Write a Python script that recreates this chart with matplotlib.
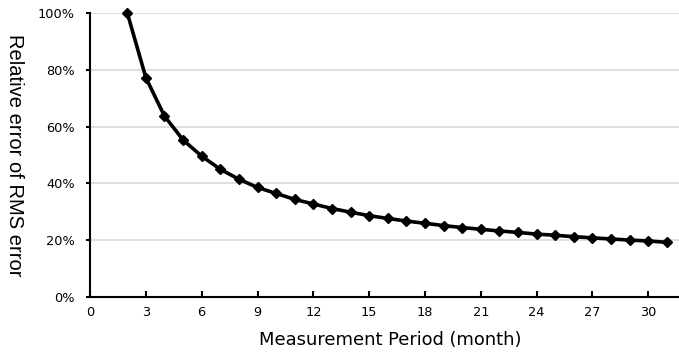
import matplotlib
matplotlib.use("Agg")
import matplotlib.pyplot as plt
from matplotlib.ticker import FuncFormatter

# measurement period (month) and relative error of RMS error (%)
months = list(range(2, 32))
rel_error = [100.0, 77.2, 63.7, 55.3, 49.6, 45.0, 41.5, 38.6, 36.5, 34.4,
             32.8, 31.2, 29.9, 28.7, 27.7, 26.8, 26.0, 25.2, 24.5, 23.9,
             23.3, 22.8, 22.2, 21.8, 21.3, 20.9, 20.5, 20.1, 19.8, 19.3]

xticks = list(range(0, 31, 3))
yticks = [0, 20, 40, 60, 80, 100]

fig = plt.figure(figsize=(6.79, 3.56), dpi=100)
ax = fig.add_axes([0.1326, 0.165, 0.8674, 0.799])

ax.plot(months, rel_error, color="black", linewidth=2.6, marker="D",
        markersize=5.5, clip_on=False, zorder=3)

ax.set_xlim(0, 31.65)
ax.set_ylim(0, 100)
ax.set_xticks(xticks)
ax.set_yticks(yticks)
ax.yaxis.set_major_formatter(FuncFormatter(lambda v, p: f"{int(v)}%"))

ax.grid(axis="y", color="#d9d9d9", linewidth=1.2)
ax.set_axisbelow(True)
for s in ["top", "right"]:
    ax.spines[s].set_visible(False)
ax.spines["left"].set_linewidth(1.5)
ax.spines["bottom"].set_linewidth(1.5)
ax.tick_params(axis="x", direction="in", length=4, width=1.5, labelsize=9.3, pad=6)
ax.tick_params(axis="y", direction="out", length=3, width=1.5, labelsize=9.3, pad=8)

ax.set_xlabel("Measurement Period (month)", fontsize=12.9)
ax.xaxis.set_label_coords(0.51, -0.12)
ax.set_ylabel("Relative error of RMS error", fontsize=14.5, family="Liberation Sans",
              rotation=270, va="center")
ax.yaxis.set_label_coords(-0.128, 0.5)

fig.savefig("out.png", dpi=100)
